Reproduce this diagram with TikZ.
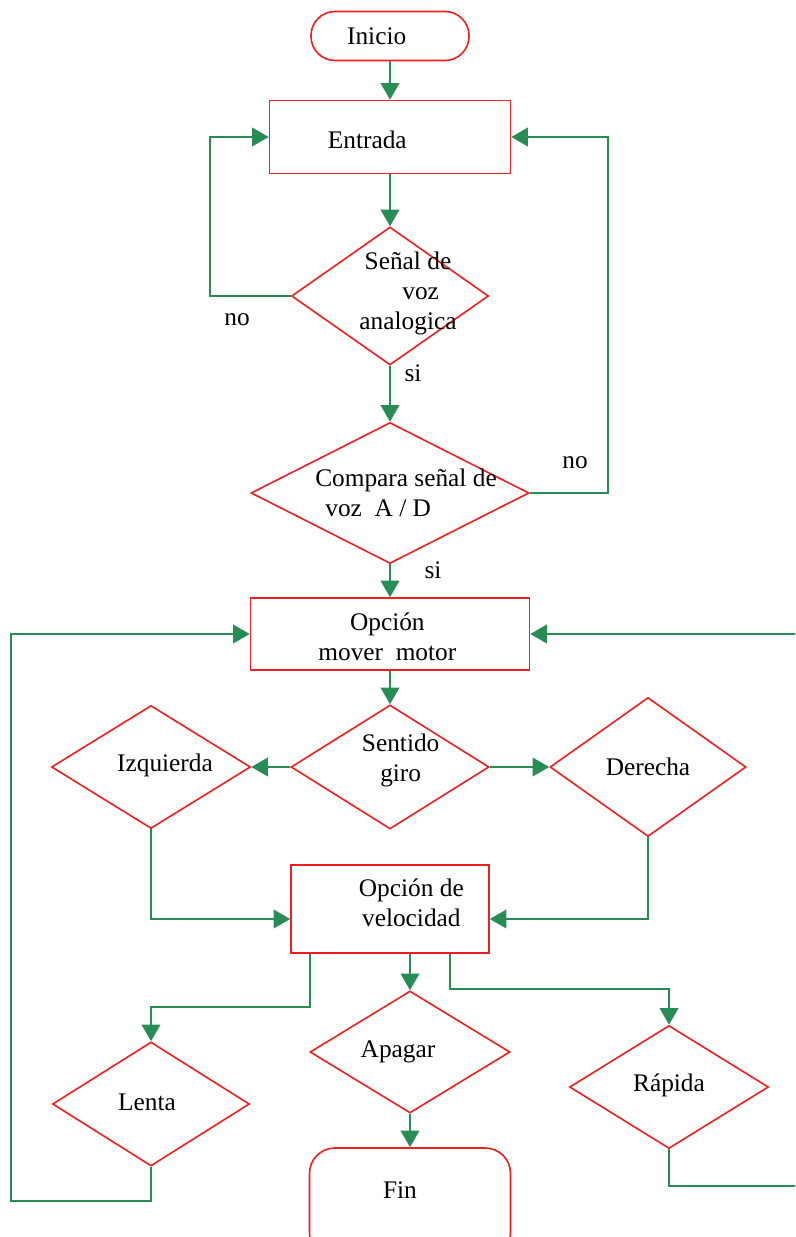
\documentclass[tikz,border=0pt]{standalone}
\usepackage{fontspec}
\setmainfont{Liberation Serif}
\usetikzlibrary{shapes.geometric,arrows.meta}
\definecolor{borde}{RGB}{240,30,30}
\definecolor{flecha}{RGB}{40,140,85}
\tikzset{caja/.style={draw=borde,line width=1.2pt,rectangle,inner sep=0pt},term/.style={caja,rounded corners=18pt},
rombo/.style={draw=borde,line width=1.2pt,diamond,inner sep=0pt},every label/.style={align=center},
flujo/.style={draw=flecha,line width=1.4pt},fl/.style={flujo,-{Triangle[width=14pt,length=12.5pt]}}}
\begin{document}
\begin{tikzpicture}[x=.75pt,y=-.75pt,font=\fontsize{19}{22.5}\selectfont]
\useasboundingbox(0,0)rectangle(795,1237);\clip(0,0)rectangle(795,1237);
% columna central
\node[term,minimum width=118.5pt,minimum height=36.75pt,label={[xshift=-10pt]center:Inicio}](ini)at(390,36){};
\node[caja,minimum width=180.75pt,minimum height=54.75pt,label={[xshift=-17pt,yshift=-2pt]center:Entrada}](ent)at(390,137){};
\node[rombo,minimum width=147.75pt,minimum height=103.5pt,label={[xshift=13.5pt,yshift=2pt]center:Señal de\\\hspace*{1em}voz\\analogica}](sen)at(390,296){};
\node[rombo,minimum width=208.5pt,minimum height=105.75pt,label={[xshift=12pt,align=left]center:Compara señal de\\\hspace*{.4em}voz\enspace A / D}](cmp)at(390,493){};
\node[caja,minimum width=209.25pt,minimum height=54pt,label={[xshift=-2pt,yshift=-2pt]center:Opción\\mover\enspace motor}](mov)at(390,634){};
\node[rombo,minimum width=148.5pt,minimum height=93pt,label={[xshift=8pt,yshift=5pt]center:Sentido\\giro}](sent)at(390,767){};
\node[rombo,minimum width=149.25pt,minimum height=92.25pt,label={[xshift=10.5pt,yshift=1pt]center:Izquierda}](izq)at(151,767){};
\node[rombo,minimum width=147pt,minimum height=104.25pt,label={center:Derecha}](der)at(648,767){};
\node[caja,minimum width=148.5pt,minimum height=66pt,label={[xshift=16pt,yshift=5pt]center:Opción de\\velocidad}](vel)at(390,909){};
\node[rombo,minimum width=150pt,minimum height=91.5pt,label={[xshift=-9pt]center:Apagar}](apa)at(410,1052){};
\node[rombo,minimum width=147.75pt,minimum height=93pt,label={[xshift=-3pt,yshift=1pt]center:Lenta}](len)at(151,1104){};
\node[rombo,minimum width=149.25pt,minimum height=92.25pt,label={[yshift=1pt]center:Rápida}](rap)at(669,1087){};
\node[term,rounded corners=19pt,minimum width=150.75pt,minimum height=82.5pt,label={[xshift=-7.5pt,yshift=9.75pt]center:Fin}](fin)at(410,1203){};
% puntos de quiebre
\coordinate(lz)at(210,0);\coordinate(rz)at(608,0);\coordinate(b1)at(310,1007);\coordinate(b2)at(450,989);
\coordinate(lx)at(11,1201);\coordinate(rx)at(805,1186);
\draw[fl](ini)--(ent);\draw[fl](ent)--(sen);\draw[fl](sen)--(cmp);\draw[fl](cmp)--(mov);\draw[fl](mov)--(sent);
\draw[fl](sen.west)--(sen.west-|lz)|-(ent.west);\draw[fl](cmp.east)--(cmp.east-|rz)|-(ent.east);
\draw[fl](sent.west)--(izq.east);\draw[fl](sent.east)--(der.west);
\draw[fl](izq.south)|-([yshift=-7.5pt]vel.west);\draw[fl](der.south)|-([yshift=-7.5pt]vel.east);
\draw[fl](vel.south-|b1)--(b1)-|(len.north);\draw[fl](vel.south-|apa.north)--(apa.north);\draw[fl](vel.south-|b2)--(b2)-|(rap.north);
\draw[fl](apa)--(fin);
\draw[fl](len.south)|-(lx)|-(mov.west);\draw[fl](rap.south)|-(rx)|-(mov.east);
\foreach\n/\p/\t in{no1/{237,320}/no,si1/{413,373}/si,no2/{575,463}/no,si2/{433,570}/si}{\node(\n)at(\p){\t};}
\end{tikzpicture}
\end{document}
